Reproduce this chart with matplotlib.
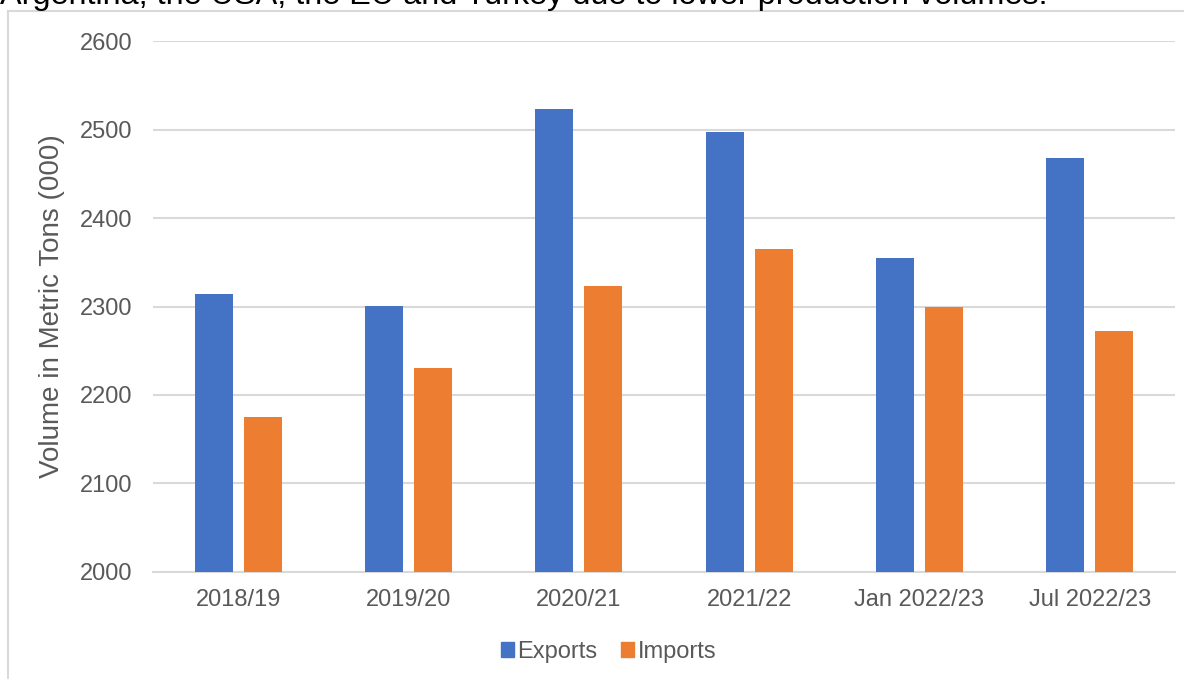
import numpy as np
import matplotlib.pyplot as plt
from matplotlib.lines import Line2D
from matplotlib.patches import Patch

plt.rcParams['font.family'] = ['Liberation Sans', 'DejaVu Sans']

seasons = ['2018/19', '2019/20', '2020/21', '2021/22', 'Jan 2022/23', 'Jul 2022/23']
exports = [2314, 2301, 2523, 2497, 2355, 2468]
imports = [2175, 2231, 2323, 2365, 2300, 2272]

blue = '#4472C4'
orange = '#ED7D31'
grey = '#595959'
grid = '#D9D9D9'

fig = plt.figure(figsize=(11.84, 6.79), dpi=100)
ax = fig.add_axes([0.1292, 0.1576, 0.8632, 0.782])

x = np.arange(len(seasons))
w = 0.223
ax.bar(x - 0.144, exports, w, color=blue, zorder=3)
ax.bar(x + 0.144, imports, w, color=orange, zorder=3)

ax.set_ylim(2000, 2600)
ax.set_xlim(-0.5, len(seasons) - 0.5)
ax.set_yticks(range(2000, 2601, 100))
ax.set_xticks(x)
ax.set_xticklabels(seasons)
ax.yaxis.grid(True, color=grid, lw=1.5, zorder=0)
ax.tick_params(length=0, labelsize=17, colors=grey, pad=12)
ax.tick_params(axis='y', pad=15)
for side in ['top', 'right', 'left']:
    ax.spines[side].set_visible(False)
ax.spines['bottom'].set_color(grid)
ax.spines['bottom'].set_linewidth(1.5)
ax.set_ylabel('Volume in Metric Tons (000)', fontsize=20, color=grey)
ax.yaxis.set_label_coords(-0.086, 0.5)

handles = [Patch(color=blue, label='Exports'), Patch(color=orange, label='Imports')]
fig.legend(handles=handles, loc='center', bbox_to_anchor=(0.514, 0.04), ncol=2,
           frameon=False, fontsize=17, handlelength=0.55, handleheight=0.55,
           handletextpad=0.15, columnspacing=1.0, labelcolor=grey)

# chart frame and the tail of the paragraph above it
fig.add_artist(Line2D([7.5 / 1184, 7.5 / 1184], [0, 1 - 11 / 679], color=grid, lw=1.5,
                      transform=fig.transFigure))
fig.add_artist(Line2D([7.5 / 1184, 1], [1 - 11 / 679, 1 - 11 / 679], color=grid, lw=1.5,
                      transform=fig.transFigure))
fig.text(0.0, 1 - 4 / 679, 'Argentina, the USA, the EU and Turkey due to lower production volumes.',
         fontsize=23.3, color='black', va='baseline', ha='left')

fig.savefig('out.png', dpi=100)
